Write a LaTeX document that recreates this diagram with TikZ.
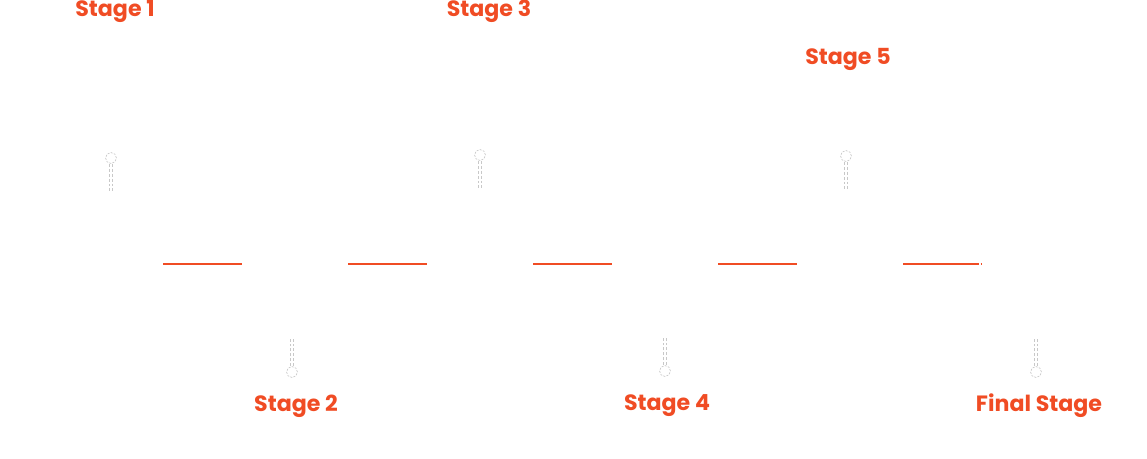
\documentclass[tikz,border=0pt]{standalone}
\usepackage{fontspec}
\setmainfont{Poppins}
\definecolor{stagered}{RGB}{240,76,36}
\definecolor{pingray}{RGB}{200,200,200}
\tikzset{
	stagelabel/.style={text=stagered, inner sep=0pt, font=\fontsize{16.6}{20}\selectfont\bfseries},
	pinhead/.style={circle, draw=pingray, line width=0.5pt, dash pattern=on 1.5pt off 1pt, inner sep=0pt, minimum size=8.2pt},
	pinstem/.style={draw=pingray, line width=0.5pt, double=white, double distance=2.2pt, dash pattern=on 2.2pt off 1.5pt},
	bar/.style={draw=stagered, line width=1.7pt}
}

\begin{document}
\begin{tikzpicture}[x=0.75pt, y=-0.75pt]
		\useasboundingbox (0,0) rectangle (1147,458);
		
		% labels
		\node[stagelabel] (l1) at (115,11) {Stage 1};
		\node[stagelabel] (l3) at (489,11) {Stage 3};
		\node[stagelabel] (l5) at (848,59) {Stage 5};
		\node[stagelabel] (l2) at (296,406) {Stage 2};
		\node[stagelabel] (l4) at (667,406) {Stage 4};
		\node[stagelabel] (lf) at (1039,406) {Final Stage};
		
		% pins above
		\node[pinhead] (p1) at (111,158) {};
		\coordinate (s1) at (111,193);
		\draw[pinstem] (p1) -- (s1);
		\node[pinhead] (p3) at (480,155) {};
		\coordinate (s3) at (480,190);
		\draw[pinstem] (p3) -- (s3);
		\node[pinhead] (p5) at (846,156) {};
		\coordinate (s5) at (846,190);
		\draw[pinstem] (p5) -- (s5);
		
		% pins below
		\node[pinhead] (p2) at (292,372) {};
		\coordinate (s2) at (292,337);
		\draw[pinstem] (p2) -- (s2);
		\node[pinhead] (p4) at (665,371) {};
		\coordinate (s4) at (665,337);
		\draw[pinstem] (p4) -- (s4);
		\node[pinhead] (pf) at (1036,372) {};
		\coordinate (sf) at (1036,337);
		\draw[pinstem] (pf) -- (sf);
		
		% red bars
		\coordinate (a1) at (163,264); \coordinate (b1) at (242,264);
		\coordinate (a2) at (348,264); \coordinate (b2) at (427,264);
		\coordinate (a3) at (533,264); \coordinate (b3) at (612,264);
		\coordinate (a4) at (718,264); \coordinate (b4) at (797,264);
		\coordinate (a5) at (903,264); \coordinate (b5) at (979,264);
		\draw[bar] (a1) -- (b1);
		\draw[bar] (a2) -- (b2);
		\draw[bar] (a3) -- (b3);
		\draw[bar] (a4) -- (b4);
		\draw[bar] (a5) -- (b5);
		\coordinate (d5) at (980.5,264); \coordinate (e5) at (982,264);
		\draw[draw=stagered, line width=1pt] (d5) -- (e5);
	\end{tikzpicture}
\end{document}
